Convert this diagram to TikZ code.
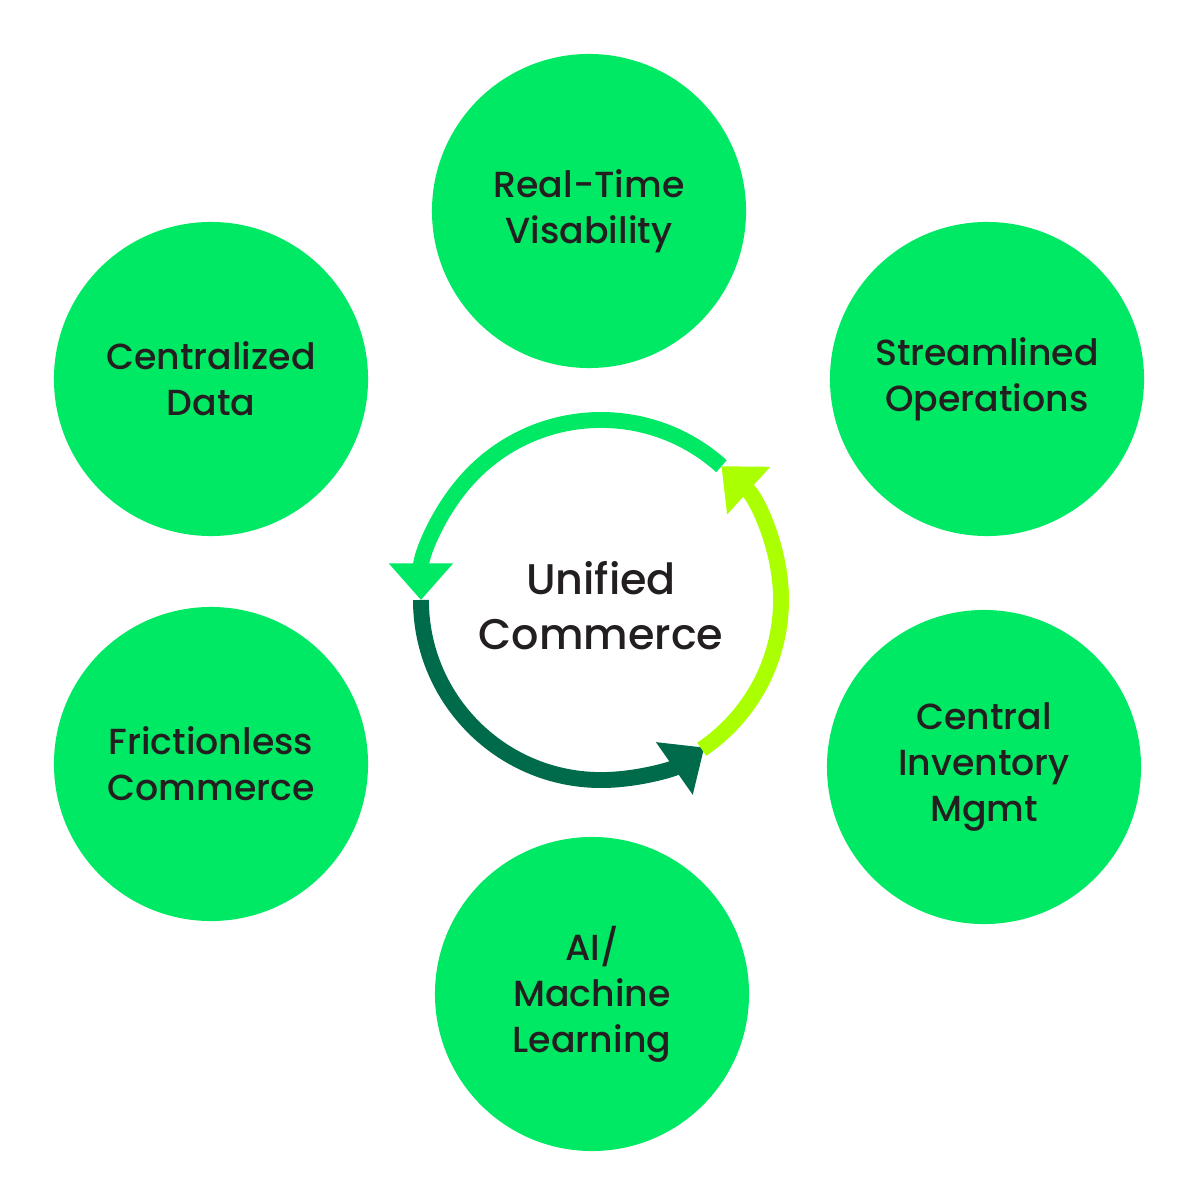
\documentclass[tikz,border=0pt]{standalone}
\usepackage{fontspec}
\setmainfont{Poppins}[UprightFont=* Medium]
\usetikzlibrary{arrows.meta}
\definecolor{circ}{RGB}{0,233,100}
\definecolor{darkarc}{RGB}{0,107,74}
\definecolor{limearc}{RGB}{170,255,0}
\definecolor{txt}{RGB}{35,31,32}
\tikzset{
  bubble/.style={circle,fill=circ,draw=none,minimum size=7.85cm,inner sep=0pt,align=center,
    text=txt,font=\fontsize{25.8}{32.6}\selectfont,yshift=0pt},
  cyc/.style={line width=11.3pt},
  tip/.style={-{Triangle[length=26pt,width=44pt]}}
}
\begin{document}
\begin{tikzpicture}[x=0.025cm,y=-0.025cm]
\useasboundingbox (0,0) rectangle (1200,1200);
\fill[white] (0,0) rectangle (1200,1200);
\node[bubble] (rt) at (589,211) {Real-Time\\Visability};
\node[bubble] (cd) at (211,379) {Centralized\\Data};
\node[bubble] (so) at (987,379) {Streamlined\\Operations};
\node[bubble] (fc) at (211,764) {Frictionless\\Commerce};
\node[bubble] (ci) at (984,767) {Central\\Inventory\\Mgmt};
\node[bubble] (ai) at (592,994) {AI/\\Machine\\Learning};
\node[align=center,text=txt,font=\fontsize{30.5}{39}\selectfont] (uc) at (601,606) {Unified\\Commerce};
\coordinate (c) at (601,600);
\draw[cyc,color=circ,tip] ([shift={(48:4.5cm)}]c) arc[start angle=48,end angle=180,radius=4.5cm];
\draw[cyc,color=darkarc,tip] ([shift={(180:4.5cm)}]c) arc[start angle=180,end angle=305,radius=4.5cm];
\draw[cyc,color=limearc,tip] ([shift={(304:4.5cm)}]c) arc[start angle=304,end angle=408,radius=4.5cm];
\end{tikzpicture}
\end{document}
